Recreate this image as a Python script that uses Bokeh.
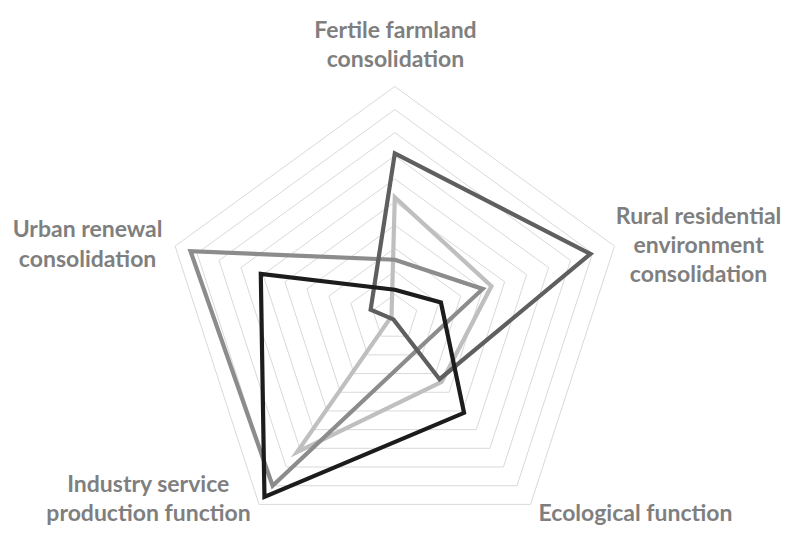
import numpy as np
from bokeh.plotting import figure
from bokeh.models import Range1d, ColumnDataSource
from bokeh.embed import file_html
from bokeh.resources import INLINE
from bokeh.core.properties import value

# ---- data -------------------------------------------------------------
categories = [
    "Fertile farmland\nconsolidation",
    "Rural residential\nenvironment\nconsolidation",
    "Ecological function",
    "Industry service\nproduction function",
    "Urban renewal\nconsolidation",
]
series_light = [5.2, 4.4, 3.45, 7.2, 0.15]
series_medium = [2.5, 4.0, 1.7, 9.0, 9.3]
series_dark = [7.1, 8.9, 3.3, 0.1, 1.1]
series_black = [1.2, 2.1, 5.1, 9.6, 6.1]
ring_levels = [1, 2, 3, 4, 5, 6, 7, 8, 9, 10]

# ---- styling ----------------------------------------------------------
colors = {"light": "#bfbfbf", "medium": "#8c8c8c", "dark": "#5f5f5f", "black": "#1c1c1c"}
px_per_unit = 23.1
cx_px, cy_px = 394.3, 317.0
W, H = 788, 528

angles = np.deg2rad([90, 18, -54, -126, 162])

p = figure(width=W, height=H, output_backend="svg", toolbar_location=None,
           x_range=Range1d(-cx_px / px_per_unit, (W - cx_px) / px_per_unit),
           y_range=Range1d(-(H - cy_px) / px_per_unit, cy_px / px_per_unit),
           min_border=0)
p.axis.visible = False
p.grid.visible = False
p.outline_line_color = None
p.background_fill_color = "white"
p.border_fill_color = "white"

# grid rings
xs = [list(np.cos(angles) * r) + [np.cos(angles[0]) * r] for r in ring_levels]
ys = [list(np.sin(angles) * r) + [np.sin(angles[0]) * r] for r in ring_levels]
p.multi_line(xs, ys, line_color="#d9d9d9", line_width=1)

def draw(vals, color):
    v = np.array(vals)
    p.patch(list(np.cos(angles) * v), list(np.sin(angles) * v), fill_color=None,
            line_color=color, line_width=4.2, line_join="miter")

draw(series_light, colors["light"])
draw(series_medium, colors["medium"])
draw(series_dark, colors["dark"])
draw(series_black, colors["black"])

# category labels (positions in chart units)
label_x = [0.03, 13.15, 10.42, -10.66, -13.30]
label_y = [11.86, 3.18, -8.40, -7.78, 3.23]
src = ColumnDataSource(dict(x=label_x, y=label_y, t=categories))
p.text(x="x", y="y", text="t", source=src, anchor="center", text_align="center",
       text_baseline="middle", text_font=value("Lato"), text_font_style="bold",
       text_font_size="23px", text_color="#7f7f7f", text_line_height=1.05)

open("out.html", "w").write(file_html(p, INLINE))
